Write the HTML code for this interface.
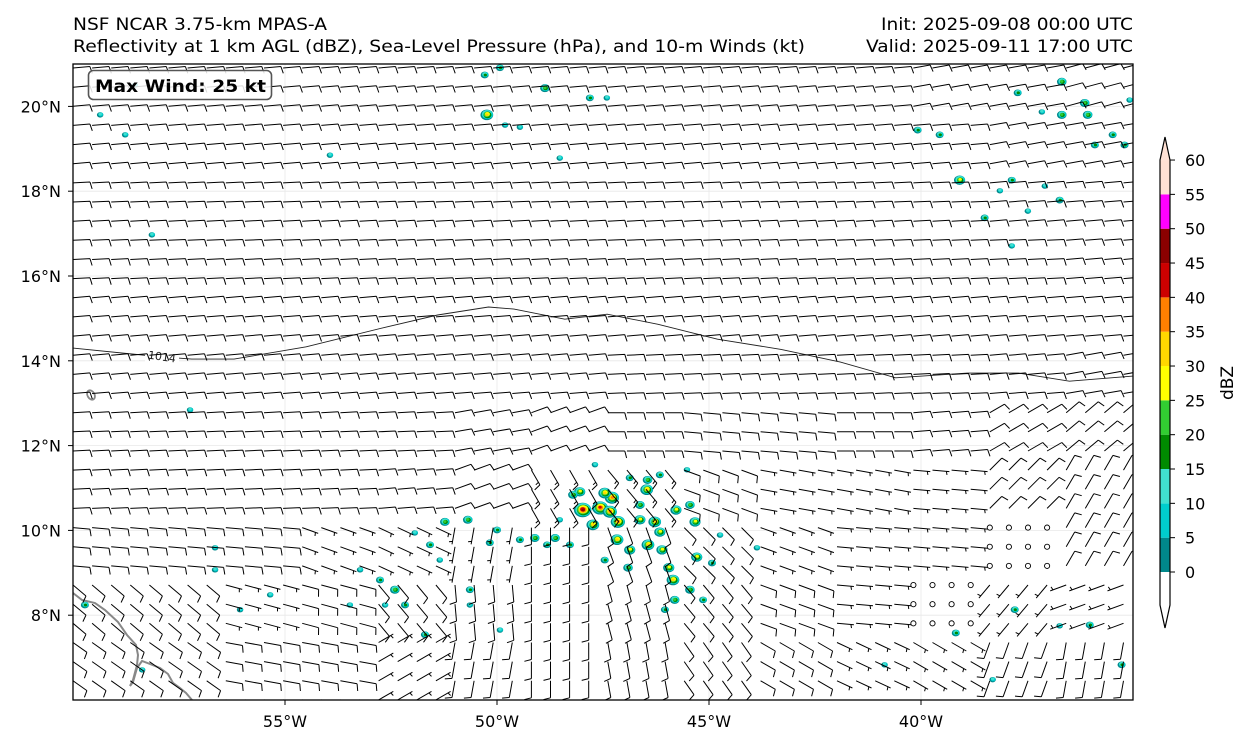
<!DOCTYPE html>
<html><head><meta charset="utf-8"><style>
html,body{margin:0;padding:0;background:#fff;}
svg{display:block;font-family:"DejaVu Sans","Liberation Sans",sans-serif;}
</style></head><body>
<svg id="chart" width="1251" height="745" viewBox="0 0 1251 745" xmlns="http://www.w3.org/2000/svg">
<rect width="1251" height="745" fill="#fff"/>
<text x="73" y="30" font-size="17" textLength="254" lengthAdjust="spacingAndGlyphs">NSF NCAR 3.75-km MPAS-A</text>
<text x="73" y="52" font-size="17" textLength="732" lengthAdjust="spacingAndGlyphs">Reflectivity at 1 km AGL (dBZ), Sea-Level Pressure (hPa), and 10-m Winds (kt)</text>
<text x="1133" y="30" font-size="17" text-anchor="end" textLength="252" lengthAdjust="spacingAndGlyphs">Init: 2025-09-08 00:00 UTC</text>
<text x="1133" y="52" font-size="17" text-anchor="end" textLength="267" lengthAdjust="spacingAndGlyphs">Valid: 2025-09-11 17:00 UTC</text>
<defs><clipPath id="mapclip"><rect x="73" y="64" width="1060" height="636"/></clipPath></defs>
<g id="map" clip-path="url(#mapclip)">
  <g id="grid"></g>
  <g id="refl"></g>
  <g id="coast">
    <polyline fill="none" stroke="#888" stroke-width="2" points="73,593 82,600 95,603 105,610 118,622 127,635 136,645 138,655 137,665 133,680 130,686 133,682 137,668 142,661 150,664 160,668 168,674 173,683 180,688 186,693 192,700"/>
    <ellipse cx="91" cy="395" rx="3.5" ry="5" fill="none" stroke="#888" stroke-width="1.8" transform="rotate(-30 91 395)"/>
  </g>
  <g id="isobar"></g>
  <g id="barbs"></g>
</g>
<rect x="73" y="64" width="1060" height="636" fill="none" stroke="#000" stroke-width="1.3"/>
<g id="axes"></g>
<g>
  <rect x="88.5" y="70.5" width="183" height="29" rx="5" fill="#fff" fill-opacity="0.85" stroke="#555" stroke-width="1.6"/>
  <text x="95" y="92" font-size="16.5" font-weight="bold" textLength="171" lengthAdjust="spacingAndGlyphs">Max Wind: 25 kt</text>
</g>
<g id="cbar"></g>
<text x="0" y="0" font-size="17" text-anchor="middle" transform="translate(1233,383) rotate(-90)">dBZ</text>
<script>
// ---------- data ----------
const lonTicks = [-55, -50, -45, -40];
const lonTickLabels = ["55°W", "50°W", "45°W", "40°W"];
const latTicks = [8, 10, 12, 14, 16, 18, 20];
const latTickLabels = ["8°N", "10°N", "12°N", "14°N", "16°N", "18°N", "20°N"];
const cbarLevels = [0, 5, 10, 15, 20, 25, 30, 35, 40, 45, 50, 55, 60];
const cbarColors = ["#00878a", "#00cdcd", "#40e0d0", "#008b00", "#32cd32", "#ffff00", "#ffd700", "#ff8000", "#cc0000", "#8b0000", "#ff00ff", "#ffe1d4"];
// reflectivity cells: [lon, lat, max dBZ]
const reflCells = [
[-47.98,10.48,45],[-47.57,10.53,40],[-47.34,10.44,35],[-47.29,10.77,35],[-47.46,10.88,30],[-47.15,10.20,35],
[-47.17,9.78,30],[-48.05,10.91,25],[-46.63,10.25,25],[-46.47,10.96,30],[-46.45,11.19,20],[-46.28,10.20,30],
[-46.63,10.60,20],[-46.16,9.96,25],[-46.44,9.66,30],[-46.11,9.54,25],[-45.95,9.12,25],[-45.85,8.83,30],
[-45.81,8.36,20],[-46.87,9.54,25],[-46.91,9.12,20],[-45.33,10.20,25],[-45.45,10.60,20],[-45.78,10.48,25],
[-45.29,9.37,25],[-45.45,8.60,20],[-45.14,8.36,15],[-44.93,9.23,15],[-44.74,9.89,10],[-46.16,11.31,15],
[-46.87,11.24,15],[-47.69,11.55,10],[-48.21,10.84,20],[-47.74,10.13,30],[-48.28,9.66,15],[-48.52,10.25,10],
[-48.63,9.82,20],[-47.46,9.30,15],[-46.04,8.13,15],[-45.52,11.43,10],[-43.87,9.59,10],
[-51.23,10.20,20],[-50.69,10.25,20],[-50.17,9.71,15],[-49.46,9.78,15],[-49.11,9.82,20],[-51.94,9.94,10],
[-51.58,9.66,15],[-50.0,10.01,15],[-48.82,9.66,15],
[-52.76,8.83,15],[-53.23,9.07,10],[-52.41,8.60,20],[-52.17,8.24,15],[-52.64,8.24,10],[-53.47,8.24,10],
[-51.70,7.54,15],[-51.35,9.30,10],[-50.64,8.24,10],[-55.35,8.48,10],[-56.06,8.13,10],[-56.65,9.07,10],
[-59.72,8.24,15],[-58.37,6.71,10],[-56.65,9.59,10],[-49.93,7.65,10],[-50.64,8.60,15],
[-50.29,20.74,15],[-48.87,20.43,20],[-50.24,19.80,30],[-47.81,20.20,15],[-49.81,19.56,10],[-49.46,19.51,10],
[-48.52,18.78,10],[-47.41,20.20,10],[-59.36,19.80,10],[-58.77,19.33,10],[-58.54,20.50,10],[-58.14,16.97,10],
[-53.94,18.85,10],[-49.93,20.91,15],
[-36.68,20.58,20],[-36.14,20.08,20],[-36.07,19.80,20],[-36.68,19.80,20],[-35.90,19.09,15],[-35.48,19.33,15],
[-35.20,19.09,15],[-40.08,19.44,15],[-39.56,19.33,15],[-39.09,18.26,25],[-37.86,18.26,15],[-38.14,18.01,10],
[-37.08,18.12,10],[-36.73,17.79,15],[-37.48,17.53,10],[-38.50,17.37,15],[-37.86,16.71,10],[-37.72,20.32,15],
[-37.15,19.87,10],[-35.08,20.15,10],
[-39.18,7.58,15],[-37.79,8.13,15],[-36.02,7.77,15],[-36.73,7.75,10],[-35.27,6.83,15],[-40.86,6.83,10],
[-38.31,6.48,10],[-57.24,12.84,10]
];
// 1014 hPa isobar: [lon, lat]
const isobarLon = [-60,-58.0,-57.2,-56.2,-54.5,-52.6,-51.4,-50.2,-49.6,-48.4,-47.4,-46.2,-44.8,-43.3,-41.9,-40.6,-38.9,-37.7,-36.5,-35];
const isobarLat = [14.30,14.10,14.04,14.04,14.33,14.80,15.08,15.27,15.22,14.98,15.10,14.86,14.51,14.27,13.97,13.60,13.71,13.71,13.52,13.64];
// wind field (coarse blocks): direction wind blows FROM (deg), speed (kt)
const windDir = [
[85,85,85,85,85,85,85,85,85,85,85,80,80,75],
[85,85,85,85,85,85,85,85,85,85,85,85,80,80],
[87,87,87,87,87,87,87,87,87,87,87,87,85,85],
[87,87,87,87,87,87,87,87,87,87,87,87,87,85],
[85,85,85,85,85,85,85,85,85,85,85,85,85,85],
[85,85,85,85,85,85,85,87,87,87,87,87,85,80],
[87,87,87,87,87,80,70,90,95,95,90,85,60,50],
[87,87,87,87,85,70,150,140,110,100,100,95,45,30],
[95,95,95,110,115,190,180,160,135,110,95,95,0,30],
[130,130,105,105,140,175,180,165,140,110,95,0,220,250],
[125,125,100,100,60,190,180,170,145,120,115,120,200,190]
];
const windSpd = [
[10,10,10,10,10,10,10,10,10,10,10,10,10,10],
[10,10,10,10,10,10,10,10,10,10,10,10,10,10],
[10,10,10,10,10,10,10,10,10,10,10,10,10,10],
[10,10,10,10,10,10,10,10,10,10,10,10,10,10],
[10,10,10,10,10,10,10,10,10,10,10,10,10,10],
[10,10,10,10,10,10,10,10,10,10,10,10,10,10],
[10,10,10,10,10,10,10,10,10,10,10,10,10,10],
[10,10,10,10,10,10,15,15,10,5,5,5,10,10],
[10,10,10,5,5,5,10,10,10,5,5,5,0,10],
[10,10,5,10,10,10,10,10,10,10,5,0,5,5],
[10,10,10,10,5,10,10,10,10,10,5,5,10,10]
];

// ---------- axes ----------
const NS = "http://www.w3.org/2000/svg";
const X0 = 73, Y0 = 64, W = 1060, H = 636, LON0 = -60, LON1 = -35, LAT0 = 6, LAT1 = 21;
function xOf(lon){ return X0 + (lon - LON0) / (LON1 - LON0) * W; }
function yOf(lat){ return Y0 + (LAT1 - lat) / (LAT1 - LAT0) * H; }
function mk(tag, attrs, parent){
  const e = document.createElementNS(NS, tag);
  for (const k in attrs) e.setAttribute(k, attrs[k]);
  parent.appendChild(e); return e;
}
const grid = document.getElementById('grid'), axes = document.getElementById('axes');
lonTicks.forEach((lon, i) => {
  const x = xOf(lon);
  const g = mk('line', {x1:x, x2:x, y1:Y0, y2:Y0+H, stroke:'#e8e8e8', 'stroke-width':0.8}, grid);
  
  
  const t = mk('line', {x1:x, x2:x, y1:Y0+H, y2:Y0+H+5, stroke:'#000', 'stroke-width':1}, axes);
  
  
  const l = mk('text', {x:x, y:727, 'font-size':16, 'text-anchor':'middle'}, axes);
  l.textContent = lonTickLabels[i];
  
  
});
latTicks.forEach((lat, i) => {
  const y = yOf(lat);
  const g = mk('line', {x1:X0, x2:X0+W, y1:y, y2:y, stroke:'#e8e8e8', 'stroke-width':0.8}, grid);
  
  
  const t = mk('line', {x1:X0-5, x2:X0, y1:y, y2:y, stroke:'#000', 'stroke-width':1}, axes);
  
  
  const l = mk('text', {x:61, y:y+6, 'font-size':16, 'text-anchor':'end'}, axes);
  l.textContent = latTickLabels[i];
  
  
});

// ---------- reflectivity ----------
const refl = document.getElementById('refl');
reflCells.forEach(c => {
  const x = xOf(c[0]), y = yOf(c[1]);
  const n = Math.floor(c[2] / 5);
  const g = mk('g', {}, refl);
  
  
  for (let k = 0; k <= n && k < cbarColors.length; k++) {
    const r = 1.4 + (n - k) * 0.65;
    mk('ellipse', {cx:x + (k%2)*0.6, cy:y - (k%3)*0.4, rx:r*1.2, ry:r, fill:cbarColors[k]}, g);
  }
});

// ---------- isobar ----------
const iso = document.getElementById('isobar');
const pts = isobarLon.map((lo, i) => xOf(lo).toFixed(1) + ',' + yOf(isobarLat[i]).toFixed(1)).join(' ');
const pl = mk('polyline', {points:pts, fill:'none', stroke:'#222', 'stroke-width':0.9}, iso);


const lbx = xOf(-57.9), lby = yOf(14.1);
const bg = mk('rect', {x:lbx-17, y:lby-7, width:34, height:12, fill:'#fff'}, iso);


const il = mk('text', {x:lbx, y:lby+4, 'font-size':11, 'text-anchor':'middle', fill:'#222', transform:`rotate(8 ${lbx} ${lby})`}, iso);
il.textContent = '1014';



// ---------- wind barbs ----------
const barbs = document.getElementById('barbs');
const DX = 19.1, DY = 19.15, L = 17;
for (let r = 0; r < 34; r++) {
  for (let c = 0; c < 56; c++) {
    const x = X0 + c * DX, y = 68 + r * DY;
    if (y > Y0 + H + 2) continue;
    const br = Math.min(windDir.length - 1, Math.floor(r / 3));
    const bc = Math.min(windDir[0].length - 1, Math.floor(c / 4));
    const d = windDir[br][bc], s = windSpd[br][bc];
    if (s === 0) {
      const o = mk('circle', {cx:x, cy:y, r:2.6, fill:'none', stroke:'#000', 'stroke-width':0.9}, barbs);
      
      
      continue;
    }
    const rad = d * Math.PI / 180;
    const ux = Math.sin(rad), uy = -Math.cos(rad);
    const px = -uy, py = ux;
    const tx = x + ux * L, ty = y + uy * L;
    let path = `M${x.toFixed(1)},${y.toFixed(1)}L${tx.toFixed(1)},${ty.toFixed(1)}`;
    let full = Math.floor(s / 10), half = (s % 10) >= 5 ? 1 : 0;
    let off = 0;
    if (full === 0 && half) off = 3;
    for (let f = 0; f < full; f++) {
      const bx = tx - ux * off, by = ty - uy * off;
      path += `M${bx.toFixed(1)},${by.toFixed(1)}L${(bx + px*7 + ux*1.8).toFixed(1)},${(by + py*7 + uy*1.8).toFixed(1)}`;
      off += 3;
    }
    if (half) {
      const bx = tx - ux * off, by = ty - uy * off;
      path += `M${bx.toFixed(1)},${by.toFixed(1)}L${(bx + px*3.5 + ux*0.9).toFixed(1)},${(by + py*3.5 + uy*0.9).toFixed(1)}`;
    }
    const b = mk('path', {d:path, fill:'none', stroke:'#000', 'stroke-width':1}, barbs);
    
    
  }
}

// ---------- colorbar ----------
const cb = document.getElementById('cbar');
const CX = 1160, CW = 10, CY0 = 572, CSTEP = 34.33;
function cbY(v){ return CY0 - v / 5 * CSTEP; }
cbarColors.forEach((col, i) => {
  const y1 = cbY(cbarLevels[i+1]), y0 = cbY(cbarLevels[i]);
  const rc = mk('rect', {x:CX, y:y1, width:CW, height:y0-y1, fill:col}, cb);
  
  
});
const topY = cbY(60), botY = cbY(0);
const tri = mk('polygon', {points:`${CX},${topY} ${CX+CW/2},${topY-23} ${CX+CW},${topY}`, fill:cbarColors[cbarColors.length-1]}, cb);


const outline = mk('path', {d:`M${CX},${topY}L${CX+CW/2},${topY-23}L${CX+CW},${topY}L${CX+CW},${botY+33}L${CX+CW/2},${botY+56}L${CX},${botY+33}Z`, fill:'none', stroke:'#000', 'stroke-width':1.2}, cb);


cbarLevels.forEach(v => {
  const y = cbY(v);
  const t = mk('line', {x1:CX+CW, x2:CX+CW+5, y1:y, y2:y, stroke:'#000', 'stroke-width':1}, cb);
  
  
  const l = mk('text', {x:1185, y:y+6, 'font-size':16}, cb);
  l.textContent = String(v);
  
  
});
</script>
</svg>
</body></html>
